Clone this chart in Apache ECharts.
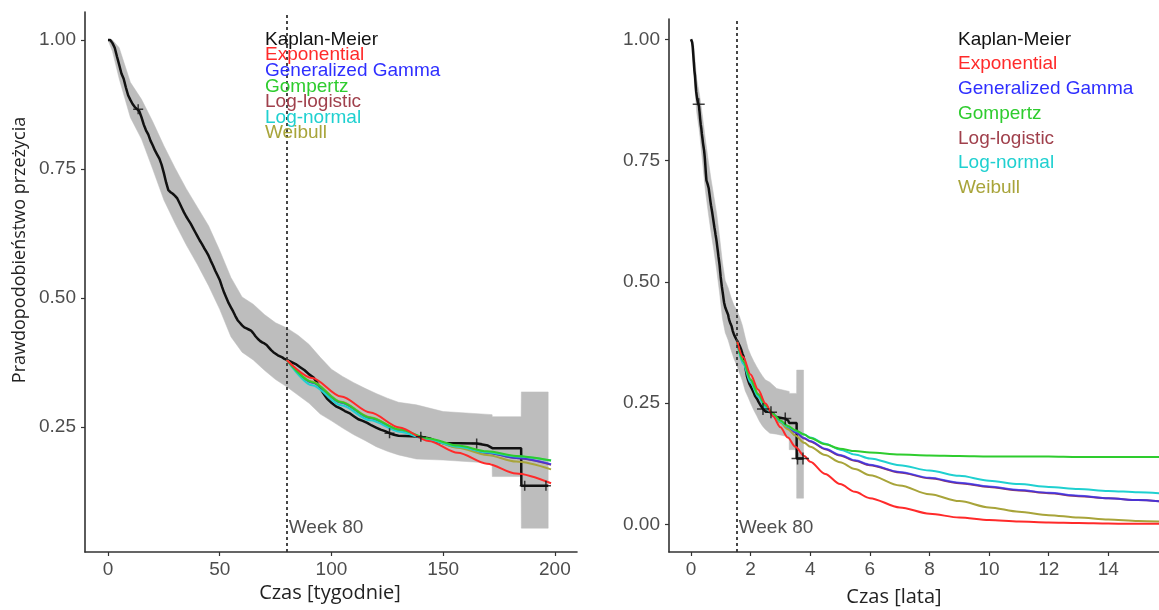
<!DOCTYPE html>
<html>
<head>
<meta charset="utf-8">
<script src="https://cdn.jsdelivr.net/npm/echarts@6/dist/echarts.min.js"></script>
<style>
html,body{margin:0;padding:0;background:#fff;}
#chart{width:1159px;height:610px;}
</style>
</head>
<body>
<div id="chart"></div>
<script>
// ---------------- DATA ----------------
const WEEKS_PER_YEAR = 52.18;
const cutoffWeek = 80;
const cutoffLabel = 'Week 80';

// Kaplan-Meier estimate (weeks, survival)
const kmWeeks = [0,1,2,3,4,5,6,7,8,9,10,11,12,13,14,15,16,17,18,19,20,21,22,23,24,25,26,27,28,29,30,31,32,33,34,35,36,37,38,39,40,41,42,43,44,45,46,47,48,49,50,51,52,53,54,55,56,57,58,59,60,61,62,63,64,65,66,67,68,69,70,71,72,73,74,75,76,77,78,79,80,
  82,84,86,88,90,92,94,96,98,100,102,104,106,108,110,112,114,116,118,120,122,124,126,128,130,136,140,144,147,150,165,170,172,184.9,185,197];
const kmSurv = [1.000,1.000,0.994,0.985,0.968,0.952,0.935,0.925,0.908,0.893,
  0.884,0.876,0.870,0.866,0.862,0.850,0.836,0.825,0.817,0.805,
  0.796,0.786,0.778,0.770,0.758,0.742,0.724,0.709,0.705,0.702,
  0.698,0.693,0.684,0.675,0.666,0.658,0.651,0.644,0.636,0.628,
  0.620,0.612,0.605,0.597,0.590,0.582,0.572,0.563,0.553,0.544,
  0.535,0.522,0.510,0.500,0.490,0.482,0.474,0.465,0.457,0.452,
  0.447,0.443,0.441,0.439,0.437,0.432,0.426,0.421,0.417,0.414,
  0.412,0.409,0.404,0.399,0.395,0.392,0.389,0.387,0.385,0.382,
  0.380,
  0.376,0.372,0.366,0.360,0.352,0.346,0.333,0.318,0.305,0.297,0.290,0.286,0.281,0.277,0.271,0.265,0.262,0.258,0.253,0.249,0.245,0.242,0.238,0.235,0.233,0.232,0.231,0.228,0.222,0.219,0.218,0.214,0.209,0.209,0.136,0.136];

// Confidence band of KM (weeks, lower, upper)
const ciWeeks = [0,2,5,10,15,20,25,30,35,40,45,50,55,60,65,70,75,80,85,90,95,100,105,110,115,120,125,130,138,150,171.9,172,184.9,185,197];
const ciLower = [1.000,0.978,0.925,0.850,0.808,0.750,0.690,0.645,0.603,0.565,0.524,0.478,0.425,0.395,0.380,0.360,0.342,0.328,0.312,0.296,0.275,0.262,0.248,0.235,0.224,0.212,0.203,0.196,0.188,0.186,0.180,0.154,0.154,0.054,0.054];
const ciUpper = [1.000,1.000,0.985,0.918,0.885,0.842,0.795,0.752,0.712,0.676,0.640,0.592,0.540,0.502,0.488,0.468,0.452,0.442,0.428,0.410,0.385,0.362,0.348,0.336,0.325,0.315,0.306,0.298,0.293,0.280,0.274,0.270,0.270,0.318,0.318];

// Censoring marks (weeks, survival)
const censorWeeks = [13.5,126,140,165,186.5,196];
const censorSurv = [0.866,0.238,0.231,0.218,0.136,0.136];

// Parametric fits from week 80 (time in years)
const fitYears = [1.533,1.75,2.0,2.25,2.5,2.75,3.0,3.25,3.5,3.8,4.0,4.5,5.0,5.5,6.0,7,8,9,10,11,12,13,14,15,16];
const fitExponential = [0.380,0.345,0.309,0.278,0.249,0.223,0.200,0.179,0.160,0.141,0.129,0.104,0.083,0.067,0.054,0.035,0.022,0.014,0.009,0.006,0.004,0.003,0.002,0.001,0.001];
const fitGenGamma    = [0.380,0.336,0.297,0.267,0.243,0.226,0.211,0.200,0.190,0.178,0.172,0.156,0.143,0.132,0.123,0.108,0.096,0.086,0.078,0.071,0.065,0.059,0.054,0.050,0.046];
const fitGompertz    = [0.380,0.337,0.298,0.268,0.245,0.228,0.214,0.203,0.194,0.185,0.178,0.165,0.156,0.151,0.148,0.144,0.142,0.141,0.140,0.140,0.140,0.139,0.139,0.139,0.139];
const fitLogLogistic = [0.380,0.337,0.298,0.268,0.244,0.227,0.212,0.200,0.190,0.177,0.171,0.155,0.142,0.131,0.122,0.107,0.095,0.085,0.077,0.070,0.064,0.058,0.054,0.050,0.046];
const fitLogNormal   = [0.380,0.331,0.292,0.263,0.241,0.225,0.212,0.201,0.193,0.185,0.179,0.166,0.154,0.144,0.136,0.122,0.111,0.100,0.090,0.083,0.077,0.073,0.069,0.066,0.063];
const fitWeibull     = [0.380,0.338,0.299,0.269,0.245,0.226,0.210,0.196,0.183,0.168,0.160,0.143,0.128,0.114,0.101,0.080,0.062,0.048,0.035,0.026,0.019,0.014,0.010,0.007,0.005];
const leftFitMaxYears = 3.8;

const legendNames = ['Kaplan-Meier','Exponential','Generalized Gamma','Gompertz','Log-logistic','Log-normal','Weibull'];
const leftXTicks = [0,50,100,150,200];
const rightXTicks = [0,2,4,6,8,10,12,14];
const leftYTicks = [0.25,0.50,0.75,1.00];
const rightYTicks = [0,0.25,0.50,0.75,1.00];
const xTitleLeft = 'Czas [tygodnie]';
const xTitleRight = 'Czas [lata]';
const yTitle = 'Prawdopodobieństwo przeżycia';

// ---------------- STYLE ----------------
const COLORS = {
  'Kaplan-Meier':'#111111',
  'Exponential':'#ff2a2a',
  'Generalized Gamma':'#2f2fff',
  'Gompertz':'#2ecc2e',
  'Log-logistic':'#a0404c',
  'Log-normal':'#1fd0d0',
  'Weibull':'#a8a43a'
};
const fits = [
  ['Log-logistic', fitLogLogistic, 1],
  ['Generalized Gamma', fitGenGamma, 0.75],
  ['Weibull', fitWeibull, 1],
  ['Log-normal', fitLogNormal, 1],
  ['Gompertz', fitGompertz, 1],
  ['Exponential', fitExponential, 1]
];

const chart = echarts.init(document.getElementById('chart'), null, {renderer:'canvas'});

const AXIS_COLOR = '#333333';
const SANS = 'Liberation Sans';
const TICK_LABEL = {color:'#4d4d4d', fontSize:19, fontFamily:SANS};

function xAxisDef(grid, min, max, ticks){
  return {
    type:'value', gridIndex:grid, min:min, max:max,
    axisLine:{show:true, onZero:false, lineStyle:{color:AXIS_COLOR, width:1.6}},
    axisTick:{show:true, length:4, customValues:ticks, lineStyle:{color:AXIS_COLOR, width:1.2}},
    axisLabel:Object.assign({customValues:ticks, margin:8}, TICK_LABEL),
    splitLine:{show:false}
  };
}
function yAxisDef(grid, min, max, ticks){
  return {
    type:'value', gridIndex:grid, min:min, max:max,
    axisLine:{show:true, onZero:false, lineStyle:{color:AXIS_COLOR, width:1.6}},
    axisTick:{show:true, length:4, customValues:ticks, lineStyle:{color:AXIS_COLOR, width:1.2}},
    axisLabel:Object.assign({customValues:ticks, margin:9, formatter:(v)=>v.toFixed(2)}, TICK_LABEL),
    splitLine:{show:false}
  };
}

function panelSeries(axisIdx, toX, fitMax, cutoffX, labelY, censorSize){
  const s = [];
  // confidence band: one polygon through the axis scales
  s.push({
    type:'custom', xAxisIndex:axisIdx, yAxisIndex:axisIdx, silent:true, z:1,
    data:[[toX(ciWeeks[0]), ciUpper[0]]],
    renderItem:function(params, api){
      const pts = [];
      for (let i=0;i<ciWeeks.length;i++) pts.push(api.coord([toX(ciWeeks[i]), ciUpper[i]]));
      for (let i=ciWeeks.length-1;i>=0;i--) pts.push(api.coord([toX(ciWeeks[i]), ciLower[i]]));
      return {type:'polygon', shape:{points:pts}, style:{fill:'#bdbdbd', stroke:'#bdbdbd', lineWidth:0.5}};
    }
  });
  s.push({
    type:'line', name:'Kaplan-Meier', xAxisIndex:axisIdx, yAxisIndex:axisIdx, symbol:'none',
    lineStyle:{color:COLORS['Kaplan-Meier'], width:2.5},
    data: kmWeeks.map((w,i)=>[toX(w), kmSurv[i]]), z:3
  });
  fits.forEach(([name, vals, op])=>{
    const data = [];
    fitYears.forEach((t,i)=>{ if (t <= fitMax + 1e-9) data.push([toX(t*WEEKS_PER_YEAR), vals[i]]); });
    s.push({
      type:'line', name:name, xAxisIndex:axisIdx, yAxisIndex:axisIdx, symbol:'none', smooth:0.3, smoothMonotone:'x',
      lineStyle:{color:COLORS[name], width:2, opacity:op}, data:data, z:4
    });
  });
  s.push({
    type:'scatter', xAxisIndex:axisIdx, yAxisIndex:axisIdx, silent:true,
    symbol:'path://M5,0 L5,10 M0,5 L10,5', symbolSize:censorSize,
    itemStyle:{color:'rgba(0,0,0,0)', borderColor:'#111', borderWidth:1.5},
    data: censorWeeks.map((w,i)=>[toX(w), censorSurv[i]]), z:5
  });
  s.push({
    type:'scatter', xAxisIndex:axisIdx, yAxisIndex:axisIdx, silent:true, symbolSize:0,
    data:[[cutoffX, labelY]], z:6,
    label:{show:true, position:'right', distance:2, formatter:cutoffLabel, color:'#222',
      fontSize:19, fontFamily:SANS},
    markLine:{silent:true, symbol:['none','none'], label:{show:false},
      lineStyle:{type:[3,3], color:'#333', width:1.8},
      data:[{xAxis:cutoffX}]}
  });
  return s;
}

const series = [].concat(
  panelSeries(0, w=>w, leftFitMaxYears, cutoffWeek, 0.054, 10),
  panelSeries(1, w=>w/WEEKS_PER_YEAR, 99, cutoffWeek/WEEKS_PER_YEAR, -0.008, 12)
);

// legend annotations (coloured text, as in the original figure)
const graphics = [];
legendNames.forEach((n,i)=>{
  graphics.push({type:'text', x:265, y:39.5 + i*15.6, z:10,
    style:{text:n, fill:COLORS[n], fontSize:19, fontFamily:SANS, verticalAlign:'middle', align:'left'}});
  graphics.push({type:'text', x:958, y:39.5 + i*24.7, z:10,
    style:{text:n, fill:COLORS[n], fontSize:19, fontFamily:SANS, verticalAlign:'middle', align:'left'}});
});
const TITLE_FONT = 'Open Sans';
graphics.push({type:'text', x:330, y:593, style:{text:xTitleLeft, fill:'#222', fontSize:20, fontFamily:TITLE_FONT, align:'center', verticalAlign:'middle'}});
graphics.push({type:'text', x:894, y:597, style:{text:xTitleRight, fill:'#222', fontSize:20, fontFamily:TITLE_FONT, align:'center', verticalAlign:'middle'}});
graphics.push({type:'text', x:20, y:250, rotation:Math.PI/2, style:{text:yTitle, fill:'#222', fontSize:18, fontFamily:TITLE_FONT, align:'center', verticalAlign:'middle'}});

chart.setOption({
  backgroundColor:'#ffffff',
  animation:false,
  grid:[
    {left:85, top:12, width:492, height:540, containLabel:false},
    {left:669, top:19, width:490, height:533, containLabel:false}
  ],
  xAxis:[ xAxisDef(0, -10.3, 209.9, leftXTicks), xAxisDef(1, -0.738, 15.70, rightXTicks) ],
  yAxis:[ yAxisDef(0, 0.0078, 1.0543, leftYTicks), yAxisDef(1, -0.057, 1.0419, rightYTicks) ],
  series:series,
  graphic:graphics
});
</script>
</body>
</html>
